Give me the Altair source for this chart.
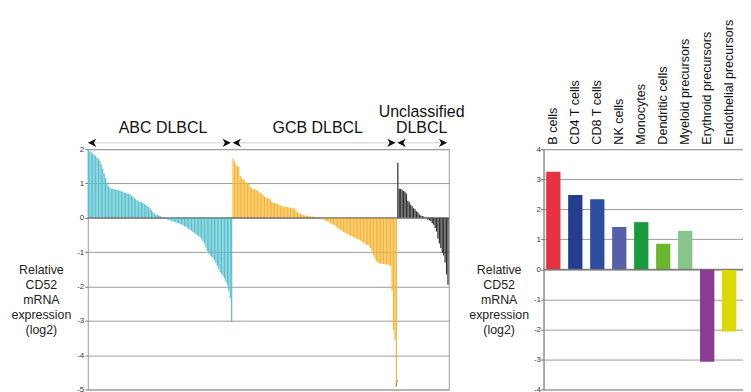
import altair as alt
import pandas as pd

FONT = "Liberation Sans"

# ---------------- data: left panel (sorted relative CD52 expression per case) -------------
abc_vals = [2.00, 1.94, 1.90, 1.87, 1.84, 1.80, 1.76, 1.72, 1.66, 1.55, 1.43, 1.30, 1.16, 1.03,
            0.93, 0.87, 0.85, 0.84, 0.83, 0.82, 0.81, 0.80, 0.79, 0.77, 0.76, 0.74, 0.72, 0.71,
            0.70, 0.68, 0.65, 0.62, 0.58, 0.54, 0.51, 0.48, 0.47, 0.46, 0.44, 0.40, 0.37, 0.35,
            0.32, 0.28, 0.23, 0.18, 0.13, 0.09, 0.08, 0.07, 0.05, 0.03, 0.02, -0.01, -0.03, -0.05,
            -0.06, -0.08, -0.09, -0.10, -0.12, -0.13, -0.15, -0.16, -0.18, -0.20, -0.22, -0.24,
            -0.26, -0.29, -0.32, -0.35, -0.38, -0.41, -0.44, -0.47, -0.50, -0.53, -0.57, -0.61,
            -0.68, -0.74, -0.86, -0.97, -1.03, -1.08, -1.13, -1.18, -1.24, -1.32, -1.40, -1.48,
            -1.58, -1.64, -1.70, -1.77, -1.86, -1.95, -2.12, -2.35, -3.03]
gcb_vals = [1.73, 1.64, 1.55, 1.50, 1.48, 1.22, 1.15, 1.12, 1.08, 1.03, 1.02, 1.00, 0.90, 0.86,
            0.84, 0.83, 0.82, 0.80, 0.75, 0.73, 0.71, 0.66, 0.62, 0.59, 0.57, 0.56, 0.54, 0.47,
            0.44, 0.43, 0.42, 0.40, 0.37, 0.36, 0.35, 0.33, 0.32, 0.32, 0.31, 0.30, 0.29, 0.28,
            0.28, 0.27, 0.22, 0.16, 0.14, 0.13, 0.10, 0.08, 0.07, 0.07, 0.06, 0.05, 0.04, 0.04,
            0.03, 0.03, 0.02, 0.02, 0.01, -0.01, -0.03, -0.05, -0.07, -0.09, -0.11, -0.13, -0.15,
            -0.18, -0.20, -0.22, -0.26, -0.29, -0.32, -0.35, -0.38, -0.41, -0.43, -0.46, -0.48,
            -0.50, -0.52, -0.54, -0.56, -0.58, -0.60, -0.62, -0.64, -0.66, -0.69, -0.72, -0.75,
            -0.78, -0.80, -0.83, -0.88, -0.98, -1.08, -1.18, -1.26, -1.30, -1.32, -1.33, -1.34,
            -1.35, -1.35, -1.36, -1.37, -1.38, -1.40, -2.12, -3.27, -3.56, -4.90]
ucl_vals = [1.60, 0.85, 0.84, 0.82, 0.78, 0.76, 0.70, 0.50, 0.45, 0.38, 0.34, 0.28, 0.25, 0.19,
            0.16, 0.10, 0.07, 0.05, 0.04, 0.02, 0.01, -0.05, -0.07, -0.10, -0.16, -0.20, -0.30,
            -0.40, -0.60, -0.75, -0.88, -1.02, -1.10, -1.30, -1.65, -1.95]

group_names = ["ABC DLBCL", "GCB DLBCL", "Unclassified DLBCL"]
group_colors = ["#58C1CF", "#F7B534", "#2E2E2E"]
left_ticks = [-5, -4, -3, -2, -1, 0, 1, 2]
y_title = ["Relative", "CD52", "mRNA", "expression", "(log2)"]

# ---------------- data: right panel (cell types) ----------------
cells = ["B cells", "CD4 T cells", "CD8 T cells", "NK cells", "Monocytes", "Dendritic cells",
         "Myeloid precursors", "Erythroid precursors", "Endothelial precursors", "CD34+ stem cells"]
cell_vals = [3.25, 2.47, 2.33, 1.41, 1.57, 0.85, 1.28, -3.08, -2.07, -0.97]
cell_colors = ["#E8313F", "#243D8E", "#2D4DA0", "#5560A9", "#189B3D", "#6CB52F", "#87C58C",
               "#8C3B90", "#DCD800", "#E3A2CD"]
right_ticks = [-4, -3, -2, -1, 0, 1, 2, 3, 4]

# ---------------- build tables ----------------
rows = []
spans = []
i = 0
for g, vals in zip(group_names, [abc_vals, gcb_vals, ucl_vals]):
    start = i
    for v in vals:
        rows.append({"group": g, "x0": i, "x1": i + 0.85, "value": v, "zero": 0})
        i += 1
    spans.append((g, start, i))
N = i
df = pd.DataFrame(rows)

arrows_l = pd.DataFrame([{"x": s + 3, "y": 2.183} for g, s, e in spans])
arrows_r = pd.DataFrame([{"x": e - 4, "y": 2.183} for g, s, e in spans])
arrow_lines = pd.DataFrame([{"x": s + 3, "x2": e - 4, "y": 2.183} for g, s, e in spans])
labels = pd.DataFrame([
    {"x": (spans[0][1] + spans[0][2]) / 2 + 2, "y": 2.456, "t": "ABC DLBCL"},
    {"x": (spans[1][1] + spans[1][2]) / 2 + 2, "y": 2.456, "t": "GCB DLBCL"},
    {"x": (spans[2][1] + spans[2][2]) / 2 - 1, "y": 2.456, "t": "DLBCL"},
    {"x": (spans[2][1] + spans[2][2]) / 2 - 1, "y": 2.938, "t": "Unclassified"},
])
brk = pd.DataFrame([{"x": spans[1][2] - 0.5, "y": -4.85}])
zero_df = pd.DataFrame([{"v": 0}])

xs = alt.Scale(domain=[0, N], nice=False, zero=False)
ys = alt.Scale(domain=[-5, 2], nice=False, zero=False)

left_axis = alt.Axis(values=left_ticks, tickCount=20, grid=True, gridColor="#9c9c9c", gridWidth=1,
                     domain=False, ticks=True, tickSize=3, tickColor="#777",
                     labelFontSize=8, labelColor="#333", labelPadding=1,
                     labelExpr="'' + datum.value",
                     title=y_title, titleAngle=0, titleAlign="center", titleBaseline="middle",
                     titleX=-47, titleY=120.5, titleFontSize=12.4, titleFontWeight="normal",
                     titleColor="#222", titleLineHeight=15)

def LX(field):
    return alt.X(field, scale=xs, axis=None)

def LY(field):
    return alt.Y(field, scale=ys, axis=left_axis)

bars = alt.Chart(df).mark_bar().encode(
    x=LX("x0:Q"),
    x2="x1:Q",
    y=LY("value:Q"),
    y2="zero:Q",
    color=alt.Color("group:N", scale=alt.Scale(domain=group_names, range=group_colors), legend=None),
)
zero_rule_l = alt.Chart(zero_df).mark_rule(color="#666", strokeWidth=1).encode(y=LY("v:Q"))
lines = alt.Chart(arrow_lines).mark_rule(color="#d0d0d0", strokeWidth=1).encode(
    x=LX("x:Q"), x2="x2:Q", y=LY("y:Q"))
left_head = alt.Chart(arrows_l).mark_point(
    shape="M1,-1L-1,0L1,1L0.45,0Z", filled=True, color="#111", opacity=1, size=70, clip=False
).encode(x=LX("x:Q"), y=LY("y:Q"))
right_head = alt.Chart(arrows_r).mark_point(
    shape="M-1,-1L1,0L-1,1L-0.45,0Z", filled=True, color="#111", opacity=1, size=70, clip=False
).encode(x=LX("x:Q"), y=LY("y:Q"))
texts = alt.Chart(labels).mark_text(
    font=FONT, fontSize=16, color="#111", align="center", baseline="alphabetic"
).encode(x=LX("x:Q"), y=LY("y:Q"), text="t:N")
brk_mark = alt.Chart(brk).mark_text(
    text="/", font=FONT, fontSize=9, color="#777", align="center", baseline="middle"
).encode(x=LX("x:Q"), y=LY("y:Q"))

left = alt.layer(bars, zero_rule_l, lines, left_head, right_head, texts, brk_mark).properties(
    width=362, height=241)

# ---------------- right panel ----------------
df2 = pd.DataFrame({"cell": cells, "value": cell_vals, "zero": [0] * len(cells)})
ys2 = alt.Scale(domain=[-4, 4], nice=False, zero=False)
right_axis = alt.Axis(values=right_ticks, tickCount=20, grid=True, gridColor="#9c9c9c", gridWidth=1,
                      domain=True, domainColor="#888", ticks=True, tickSize=3, tickColor="#777",
                      labelFontSize=8, labelColor="#333", labelPadding=0,
                      labelExpr="'' + datum.value",
                      title=y_title, titleAngle=0, titleAlign="center", titleBaseline="middle",
                      titleX=-45, titleY=120.5, titleFontSize=12.4, titleFontWeight="normal",
                      titleColor="#222", titleLineHeight=15)
rbars = alt.Chart(df2).mark_bar().encode(
    x=alt.X("cell:N", sort=cells, scale=alt.Scale(paddingInner=0.35, paddingOuter=0.12),
            axis=alt.Axis(orient="top", labelAngle=-90, labelAlign="left", labelBaseline="middle",
                          ticks=False, domain=False, grid=False, title=None,
                          labelFontSize=12.6, labelPadding=5, labelColor="#111", labelLimit=300)),
    y=alt.Y("value:Q", scale=ys2, axis=right_axis),
    y2="zero:Q",
    color=alt.Color("cell:N", sort=cells, scale=alt.Scale(domain=cells, range=cell_colors), legend=None),
)
zero_rule_r = alt.Chart(zero_df).mark_rule(color="#666", strokeWidth=1).encode(
    y=alt.Y("v:Q", scale=ys2, axis=right_axis))
right = alt.layer(rbars, zero_rule_r).properties(width=218, height=241)

chart = alt.hconcat(left, right, spacing=95, bounds="flush").resolve_scale(
    color="independent"
).properties(
    padding={"left": 2, "top": 10, "right": -19, "bottom": 0}
).configure(font=FONT).configure_view(stroke="#9c9c9c", strokeWidth=1)

chart.save("out.html", embed_options={"renderer": "svg", "actions": False})
